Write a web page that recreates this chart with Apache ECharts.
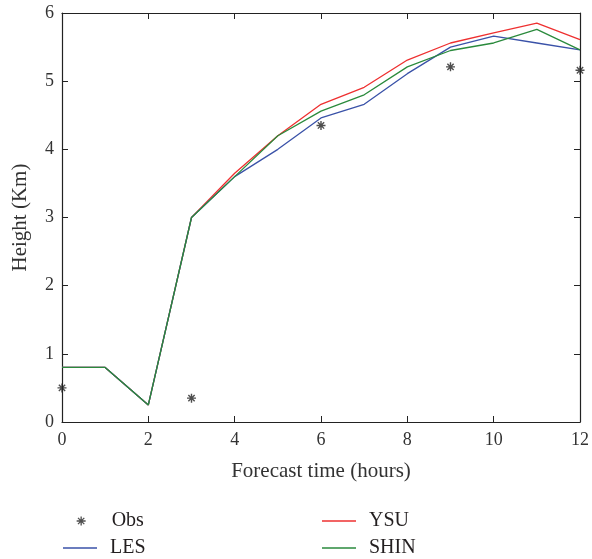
<!DOCTYPE html>
<html><head><meta charset="utf-8">
<script src="https://cdn.jsdelivr.net/npm/echarts@6/dist/echarts.min.js"></script>
<style>html,body{margin:0;padding:0;background:#fff}#c{width:592px;height:559px}</style>
</head><body><div id="c"></div>
<script>
const hours = [0,1,2,3,4,5,6,7,8,9,10,11,12];
const les  = [0.8,0.8,0.25,3.0,3.6,4.0,4.46,4.66,5.11,5.50,5.66,5.56,5.46];
const ysu  = [0.8,0.8,0.25,3.0,3.65,4.2,4.66,4.91,5.31,5.56,5.71,5.85,5.61];
const shin = [0.8,0.8,0.25,3.0,3.6,4.2,4.56,4.80,5.21,5.45,5.56,5.76,5.46];
const obsHours = [0,3,6,9,12];
const obs = [0.5,0.35,4.35,5.21,5.16];
const xTicks = [0,2,4,6,8,10,12];
const yTicks = [0,1,2,3,4,5,6];

const F = '"Liberation Serif","DejaVu Serif",serif';
const star = 'path://M5 0L5 10M0 5L10 5M1.5 1.5L8.5 8.5M8.5 1.5L1.5 8.5';
const lineIcon = 'path://M0 0L34 0L34 1.4L0 1.4Z';
const mkAxis = (extra) => Object.assign({
  axisLine: {show: true, onZero: false, lineStyle: {color: '#222', width: 1.2}},
  axisTick: {show: true, inside: true, length: 6, lineStyle: {color: '#222', width: 1}},
  splitLine: {show: false}
}, extra);
const chart = echarts.init(document.getElementById('c'));
const pair = (xs, ys) => xs.map((x, i) => [x, ys[i]]);
const leg = (name, left, top, w, pad, icon, style) => ({
  left: left, top: top, padding: 0, itemWidth: w, itemHeight: 9,
  textStyle: {fontFamily: F, fontSize: 20, color: '#231f20', padding: [0,0,0,pad]},
  data: [{name: name, icon: icon, itemStyle: style}]
});
chart.setOption({
  animation: false,
  grid: {left: 62, right: 10, top: 13, bottom: 137},
  xAxis: [
    mkAxis({type: 'value', min: 0, max: 12, interval: 2, position: 'bottom',
      name: 'Forecast time (hours)', nameLocation: 'middle', nameGap: 39,
      nameTextStyle: {fontFamily: F, fontSize: 21, color: '#333'},
      axisLabel: {fontFamily: F, fontSize: 18, color: '#333', margin: 9,
        formatter: v => xTicks.includes(v) ? String(v) : ''}}),
    mkAxis({type: 'value', min: 0, max: 12, interval: 2, position: 'top', axisLabel: {show: false}})
  ],
  yAxis: [
    mkAxis({type: 'value', min: 0, max: 6, interval: 1, position: 'left',
      name: 'Height (Km)', nameLocation: 'middle', nameGap: 31,
      nameTextStyle: {fontFamily: F, fontSize: 21, color: '#333'},
      axisLabel: {fontFamily: F, fontSize: 18, color: '#333', margin: 8,
        formatter: v => yTicks.includes(v) ? String(v) : ''}}),
    mkAxis({type: 'value', min: 0, max: 6, interval: 1, position: 'right', axisLabel: {show: false}})
  ],
  legend: [
    leg('Obs', 76, 511, 9, 21, star, {color: 'transparent', borderColor: '#222', borderWidth: 1.3}),
    leg('LES', 63, 538, 34, 8, lineIcon, {color: '#3a52a8', borderWidth: 0}),
    leg('YSU', 322, 511, 34, 8, lineIcon, {color: '#ee3030', borderWidth: 0}),
    leg('SHIN', 322, 538, 34, 8, lineIcon, {color: '#2a8a3c', borderWidth: 0})
  ],
  series: [
    {name: 'Obs', type: 'scatter', data: pair(obsHours, obs), symbol: star, symbolSize: 9,
     itemStyle: {color: 'transparent', borderColor: '#222', borderWidth: 1.4}, z: 5},
    {name: 'LES', type: 'line', data: pair(hours, les), showSymbol: false, symbol: 'none',
     lineStyle: {color: '#3a52a8', width: 1.3}, itemStyle: {color: '#3a52a8'}, z: 2},
    {name: 'YSU', type: 'line', data: pair(hours, ysu), showSymbol: false, symbol: 'none',
     lineStyle: {color: '#ee3030', width: 1.3}, itemStyle: {color: '#ee3030'}, z: 1},
    {name: 'SHIN', type: 'line', data: pair(hours, shin), showSymbol: false, symbol: 'none',
     lineStyle: {color: '#2a8a3c', width: 1.3}, itemStyle: {color: '#2a8a3c'}, z: 3}
  ]
});
</script></body></html>
